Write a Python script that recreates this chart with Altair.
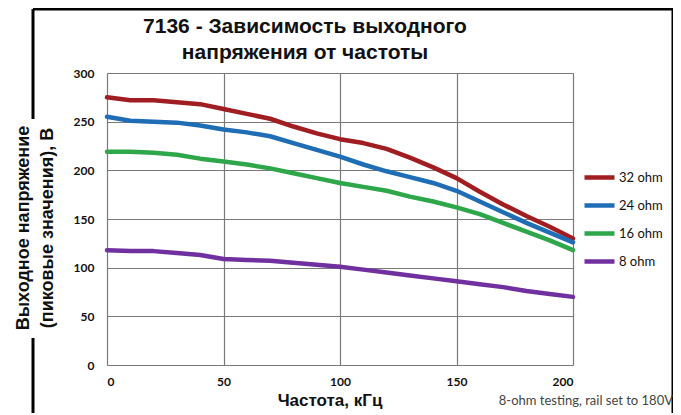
import altair as alt
import pandas as pd

# Frequency, kHz
freq = [0, 10, 20, 30, 40, 50, 60, 70, 80, 90, 100,
        110, 120, 130, 140, 150, 160, 170, 180, 190, 200]

# Output voltage (peak), V
v32 = [275, 272, 272, 270, 268, 263, 258, 253, 245, 238, 232,
       228, 222, 213, 203, 192, 178, 165, 153, 142, 130]
v24 = [255, 251, 250, 249, 246, 242, 239, 235, 228, 221, 214,
       206, 199, 193, 187, 179, 168, 157, 146, 136, 126]
v16 = [219, 219, 218, 216, 212, 209, 206, 202, 197, 192, 187,
       183, 179, 173, 168, 162, 155, 146, 137, 128, 118]
v8 = [118, 117, 117, 115, 113, 109, 108, 107, 105, 103, 101,
      98, 95, 92, 89, 86, 83, 80, 76, 73, 70]

series = ["32 ohm", "24 ohm", "16 ohm", "8 ohm"]
colors = ["#a01d22", "#1f6db5", "#2ea64a", "#7030a0"]

x_ticks = [0, 50, 100, 150, 200]
y_ticks = [0, 50, 100, 150, 200, 250, 300]

title_lines = ["7136 - Зависимость выходного", "напряжения от частоты"]
y_title_lines = ["Выходное напряжение", "(пиковые значения), В"]
x_title = "Частота, кГц"
note = "8-ohm testing, rail set to 180V"

rows = []
for name, vals in zip(series, [v32, v24, v16, v8]):
    for f, v in zip(freq, vals):
        rows.append({"f": f, "v": v, "s": name})
df = pd.DataFrame(rows)

W, H = 466, 292
FONT = "Liberation Sans"
LFONT = "Lato"

lines = alt.Chart(df).mark_line(strokeWidth=4.5, strokeCap="round", strokeJoin="round").encode(
    x=alt.X("f:Q", scale=alt.Scale(domain=[0, 200], nice=False),
            axis=alt.Axis(values=x_ticks, title=None, grid=True, gridColor="#7a7a7a",
                          gridWidth=1.2, gridOpacity=1, domain=False, ticks=False,
                          labelPadding=11, labelFontSize=12, labelFont=LFONT,
                          labelFontWeight="bold", labelColor="#111111")),
    y=alt.Y("v:Q", scale=alt.Scale(domain=[0, 300], nice=False),
            axis=alt.Axis(values=y_ticks, title=None, grid=True, gridColor="#7a7a7a",
                          gridWidth=1.2, gridOpacity=1, domain=False, ticks=False,
                          labelPadding=13, labelFontSize=12, labelFont=LFONT,
                          labelFontWeight="bold", labelColor="#111111")),
    color=alt.Color("s:N", sort=series,
                    scale=alt.Scale(domain=series, range=colors),
                    legend=alt.Legend(title=None, orient="none", legendX=475, legendY=87,
                                      symbolType="stroke", symbolStrokeWidth=4.5,
                                      symbolSize=900, rowPadding=1,
                                      labelFontSize=13, labelFont=LFONT,
                                      labelColor="#111111", labelOffset=2)),
)

one = alt.Data(values=[{}])


def text(t, x, y, size, weight="bold", angle=0, align="center", color="#111111", font=FONT):
    return alt.Chart(one).mark_text(
        text=t, fontSize=size, fontWeight=weight, angle=angle, align=align,
        baseline="middle", color=color, font=font
    ).encode(x=alt.value(x), y=alt.value(y))


def rule(x, y, x2=None, y2=None, color="black", width=3):
    enc = {"x": alt.value(x), "y": alt.value(y)}
    if x2 is not None:
        enc["x2"] = alt.value(x2)
    if y2 is not None:
        enc["y2"] = alt.value(y2)
    return alt.Chart(one).mark_rule(color=color, strokeWidth=width).encode(**enc)


layers = [
    # outer frame
    rule(-74, -64, x2=566),
    rule(-74, -64, y2=46),
    rule(-74, 265, y2=350),
    rule(566, -64, y2=350),
    lines,
    text(title_lines[0], 198, -46, 21),
    text(title_lines[1], 198, -20, 21),
    text(y_title_lines[0], -83, 155, 18, angle=270),
    text(y_title_lines[1], -59, 155, 18, angle=270),
    text(x_title, 223, 328, 17),
    text(note, 566, 328, 13, weight="normal", align="right", color="#444444", font=LFONT),
]

chart = alt.layer(*layers).properties(
    width=W, height=H,
    autosize=alt.AutoSizeParams(type="none"),
    padding={"left": 99, "top": 65, "right": 100, "bottom": 48},
).configure_view(stroke="#7a7a7a", strokeWidth=1.2).configure(background="white")

chart.save("out.html", embed_options={"renderer": "svg", "actions": False})
